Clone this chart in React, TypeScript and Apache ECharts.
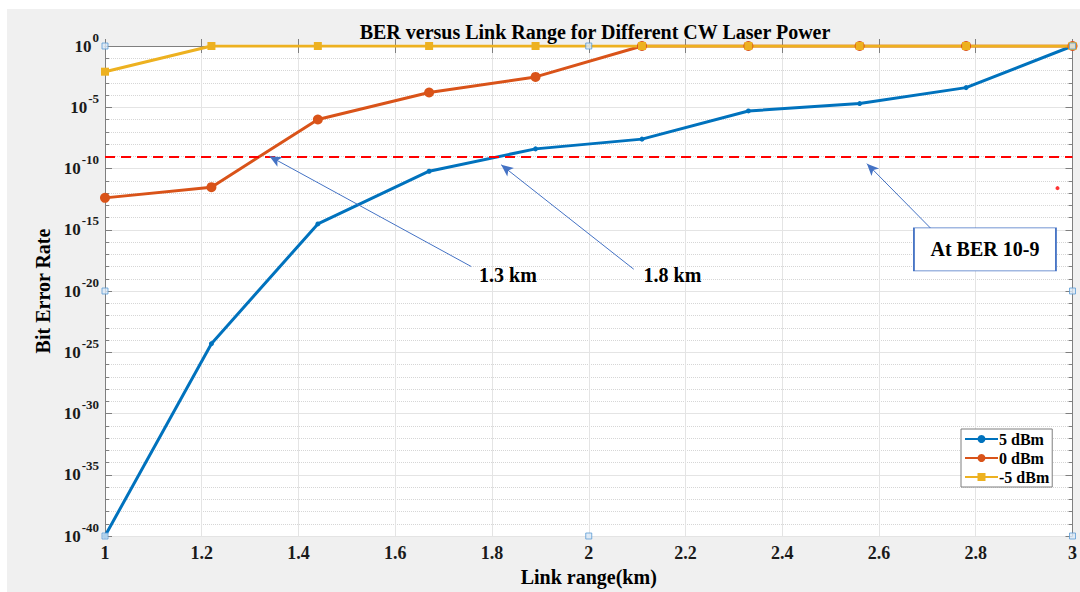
import React, { useEffect, useRef } from "react";
import * as echarts from "echarts";

// Link range (km)
const linkRange = [1, 1.22, 1.44, 1.67, 1.89, 2.11, 2.33, 2.56, 2.78, 3];
// Bit error rate per CW laser power
const ber5dBm = [1e-40, 5e-25, 3e-15, 6e-11, 4e-9, 2.5e-8, 5e-6, 2e-5, 4e-4, 1];
const ber0dBm = [4e-13, 3e-12, 1e-6, 1.6e-4, 3e-3, 1, 1, 1, 1, 1];
const berM5dBm = [8e-3, 1, 1, 1, 1, 1, 1, 1, 1, 1];
const seriesNames = ["5 dBm", "0 dBm", "-5 dBm"];
const seriesColors = ["#0072BD", "#D95319", "#EDB120"];
// threshold
const berThreshold = 1e-9;
// MATLAB selection handles on the axes box
const selectionHandles: [number, number][] = [
  [1, 1], [2, 1], [3, 1], [1, 1e-20], [3, 1e-20], [1, 1e-40], [2, 1e-40], [3, 1e-40],
];
const strayPoint: [number, number][] = [[2.969, 2.5e-12]];
// annotations: [text, x, BER]
const annotationTexts: [string, number, number][] = [
  ["1.3 km", 1.833, 2e-19],
  ["1.8 km", 2.173, 2e-19],
];
const boxText: [string, number, number] = ["At BER 10-9", 2.819, 2.5e-17];
// arrows: [fromX, fromBER, toX, toBER]
const arrows: [number, number, number, number][] = [
  [1.757, 1e-18, 1.34, 1e-9],
  [2.093, 6e-19, 1.819, 2e-10],
  [2.707, 1.3e-15, 2.575, 2.5e-10],
];

const lg = (v: number) => Math.log10(v);
const FONT = "Liberation Serif";
const AXIS_COLOR = "#7f7f7f";

export default function App() {
  const ref = useRef<HTMLDivElement>(null);
  useEffect(() => {
    if (!ref.current) return;
    const chart = echarts.init(ref.current, undefined, { renderer: "svg" });
    const mkSeries = (name: string, vals: number[], color: string, symbol: string, size: number) => ({
      name,
      type: "line",
      data: linkRange.map((x, i) => [x, lg(vals[i])]),
      symbol,
      symbolSize: size,
      showSymbol: true,
      itemStyle: { color },
      lineStyle: { color, width: 3 },
      z: 3,
    });
    const s5 = mkSeries(seriesNames[0], ber5dBm, seriesColors[0], "circle", 5);
    const s0 = mkSeries(seriesNames[1], ber0dBm, seriesColors[1], "circle", 10);
    const sm5 = mkSeries(seriesNames[2], berM5dBm, seriesColors[2], "rect", 8);
    const annLabel = {
      show: true,
      position: "inside",
      fontFamily: FONT,
      fontWeight: "bold",
      fontSize: 20,
      color: "#000",
    };
    const annSeries = {
      name: "annotations",
      type: "scatter",
      data: [],
      silent: true,
      markLine: {
        silent: true,
        animation: false,
        label: { show: false },
        data: [
          [
            { coord: [1, lg(berThreshold)], symbol: "none" },
            { coord: [3, lg(berThreshold)], symbol: "none" },
          ],
          ...arrows.map((a) => [
            { coord: [a[0], lg(a[1])], symbol: "none", lineStyle: { color: "#4472C4", width: 1, type: "solid" } },
            { coord: [a[2], lg(a[3])], symbol: "arrow", symbolSize: [8, 12], lineStyle: { color: "#4472C4", width: 1, type: "solid" } },
          ]),
        ],
        lineStyle: { color: "#ff0000", width: 2, type: [10, 6] },
      },
      markPoint: {
        silent: true,
        animation: false,
        data: [
          ...annotationTexts.map((t) => ({
            coord: [t[1], lg(t[2])],
            symbol: "rect",
            symbolSize: [1, 1],
            itemStyle: { color: "rgba(0,0,0,0)" },
            label: { ...annLabel, formatter: t[0] },
          })),
          {
            coord: [boxText[1], lg(boxText[2])],
            symbol: "rect",
            symbolSize: [142, 43],
            itemStyle: { color: "#ffffff", borderColor: "#4472C4", borderWidth: 1 },
            label: { ...annLabel, formatter: boxText[0] },
          },
        ],
      },
      z: 2,
    };
    const handleSeries = {
      name: "handles",
      type: "scatter",
      data: selectionHandles.map((p) => [p[0], lg(p[1])]),
      symbol: "rect",
      symbolSize: 6,
      itemStyle: { color: "#dbe9f6", borderColor: "#5b9bd5", borderWidth: 1 },
      silent: true,
      z: 5,
    };
    const strayS = {
      name: "stray",
      type: "scatter",
      data: strayPoint.map((p) => [p[0], lg(p[1])]),
      symbol: "circle",
      symbolSize: 4,
      itemStyle: { color: "#ff0000" },
      silent: true,
      z: 5,
    };

    const yLabelFmt = (v: number) => `{b|10}{s|${Math.round(v)}}`;

    chart.setOption({
      animation: false,
      backgroundColor: "transparent",
      title: {
        text: "BER versus Link Range for Different CW Laser Power",
        left: 590,
        textAlign: "center",
        top: 17,
        textStyle: { fontFamily: FONT, fontWeight: "bold", fontSize: 20, color: "#000" },
      },
      legend: {
        data: seriesNames,
        orient: "vertical",
        left: 961,
        top: 429,
        backgroundColor: "#ffffff",
        borderColor: AXIS_COLOR,
        borderWidth: 1,
        borderRadius: 0,
        padding: [2, 3, 2, 3],
        itemGap: 3,
        itemWidth: 33,
        itemHeight: 10,
        textStyle: { fontFamily: FONT, fontWeight: "bold", fontSize: 16, color: "#000", padding: [0, 0, 0, -4] },
      },
      grid: {
        left: 105,
        right: 5,
        top: 46,
        bottom: 54,
        show: true,
        backgroundColor: "#ffffff",
        borderWidth: 0,
      },
      xAxis: [
        {
          type: "value",
          min: 1,
          max: 3,
          interval: 0.2,
          position: "bottom",
          name: "Link range(km)",
          nameLocation: "middle",
          nameGap: 31,
          nameTextStyle: { fontFamily: FONT, fontWeight: "bold", fontSize: 20, color: "#000" },
          axisLine: { show: true, lineStyle: { color: AXIS_COLOR } },
          axisTick: { show: true, inside: true, length: 7, lineStyle: { color: AXIS_COLOR } },
          axisLabel: {
            fontFamily: FONT,
            fontWeight: "bold",
            fontSize: 18,
            color: "#1a1a1a",
            margin: 8,
            formatter: (v: number) => String(Number(v.toFixed(1))),
          },
          splitLine: { show: true, lineStyle: { color: "#e4e4e4" } },
        },
        {
          type: "value",
          min: 1,
          max: 3,
          interval: 0.2,
          position: "top",
          axisLine: { show: true, lineStyle: { color: AXIS_COLOR } },
          axisTick: { show: true, inside: true, length: 7, lineStyle: { color: AXIS_COLOR } },
          axisLabel: { show: false },
          splitLine: { show: false },
        },
      ],
      yAxis: [
        {
          type: "value",
          min: -40,
          max: 0,
          interval: 5,
          position: "left",
          name: "Bit Error Rate",
          nameLocation: "middle",
          nameGap: 50,
          nameRotate: 90,
          nameTextStyle: { fontFamily: FONT, fontWeight: "bold", fontSize: 20, color: "#000" },
          axisLine: { show: true, lineStyle: { color: AXIS_COLOR } },
          axisTick: { show: true, inside: true, length: 7, lineStyle: { color: AXIS_COLOR } },
          minorTick: { show: true, splitNumber: 5, length: 4, lineStyle: { color: AXIS_COLOR } },
          axisLabel: {
            margin: 6,
            formatter: yLabelFmt,
            rich: {
              b: { fontFamily: FONT, fontWeight: "bold", fontSize: 17, color: "#1a1a1a", verticalAlign: "bottom", lineHeight: 17 },
              s: { fontFamily: FONT, fontWeight: "bold", fontSize: 13, color: "#1a1a1a", verticalAlign: "bottom", lineHeight: 13, padding: [11, 0, 11, 1] },
            },
          },
          splitLine: { show: true, lineStyle: { color: "#e4e4e4" } },
          minorSplitLine: { show: true, lineStyle: { color: "#d6d6d6", type: "dotted" } },
        },
        {
          type: "value",
          min: -40,
          max: 0,
          interval: 5,
          position: "right",
          axisLine: { show: true, lineStyle: { color: AXIS_COLOR } },
          axisTick: { show: true, inside: true, length: 7, lineStyle: { color: AXIS_COLOR } },
          minorTick: { show: true, splitNumber: 5, length: 4, lineStyle: { color: AXIS_COLOR } },
          axisLabel: { show: false },
          splitLine: { show: false },
        },
      ],
      series: [annSeries, s5, s0, sm5, handleSeries, strayS],
    });
    return () => chart.dispose();
  }, []);

  return (
    <div style={{ position: "fixed", left: 0, top: 0, width: 1080, height: 592, background: "#ffffff" }}>
      <div style={{ position: "absolute", left: 7, top: 9, width: 1073, height: 583, background: "#f0f0f0" }} />
      <div ref={ref} style={{ position: "absolute", left: 0, top: 0, width: 1080, height: 592 }} />
    </div>
  );
}
